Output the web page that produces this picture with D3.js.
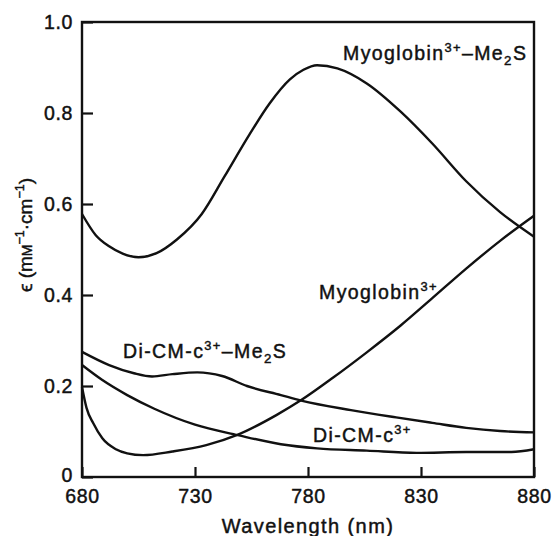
<!DOCTYPE html>
<html><head><meta charset="utf-8">
<script src="https://cdn.jsdelivr.net/npm/d3@7"></script>
<style>
html,body{margin:0;padding:0;background:#fff;}
svg{display:block;}
text{font-family:"Liberation Sans",Arial,Helvetica,sans-serif;fill:#111;stroke:#111;stroke-width:0.45px;}
</style></head>
<body>
<svg id="chart" width="554" height="536"></svg>
<script>
// ---- data ----
const xTicks = [680, 730, 780, 830, 880];
const xTickLabels = ["680", "730", "780", "830", "880"];
const yTicks = [0, 0.2, 0.4, 0.6, 0.8, 1.0];
const yTickLabels = ["0", "0.2", "0.4", "0.6", "0.8", "1.0"];

const myoMe2S_wl = [680, 686, 692, 698, 705, 713, 722, 733, 743, 754, 763, 772, 778, 784, 793, 806, 821, 835, 850, 865, 880];
const myoMe2S_val = [0.578, 0.532, 0.507, 0.491, 0.483, 0.492, 0.522, 0.578, 0.660, 0.752, 0.821, 0.874, 0.895, 0.905, 0.898, 0.865, 0.803, 0.733, 0.650, 0.582, 0.528];

const myo_wl = [680, 682, 685, 689, 695, 700, 707, 720, 735, 749, 766, 777, 791, 806, 821, 835, 850, 865, 880];
const myo_val = [0.198, 0.152, 0.118, 0.085, 0.061, 0.052, 0.048, 0.056, 0.070, 0.093, 0.136, 0.169, 0.218, 0.274, 0.333, 0.393, 0.458, 0.519, 0.574];

const diCMMe2S_wl = [680, 692, 703, 711, 720, 731, 742, 753, 768, 777, 799, 819, 835, 850, 865, 880];
const diCMMe2S_val = [0.275, 0.246, 0.228, 0.221, 0.226, 0.230, 0.222, 0.200, 0.180, 0.168, 0.147, 0.131, 0.119, 0.108, 0.101, 0.098];

const diCM_wl = [680, 689, 700, 712, 730, 749, 768, 784, 806, 828, 850, 870, 880];
const diCM_val = [0.246, 0.213, 0.180, 0.150, 0.115, 0.092, 0.072, 0.063, 0.058, 0.053, 0.055, 0.055, 0.061];

const seriesLabels = [
  {x: 343, y: 60, parts: [["Myoglobin"], ["3+", "sup"], ["–Me"], ["2", "sub"], ["S"]]},
  {x: 319, y: 299, parts: [["Myoglobin"], ["3+", "sup"]]},
  {x: 123, y: 358, parts: [["Di-CM-c"], ["3+", "sup"], ["–Me"], ["2", "sub"], ["S"]]},
  {x: 313, y: 442, parts: [["Di-CM-c"], ["3+", "sup"]]}
];

// ---- layout ----
const svg = d3.select("#chart");
const x = d3.scaleLinear().domain([680, 880]).range([82, 534]);
const y = d3.scaleLinear().domain([0, 1.0]).range([477, 22]);

// frame
svg.append("rect")
  .attr("x", x(680)).attr("y", y(1))
  .attr("width", x(880) - x(680)).attr("height", y(0) - y(1))
  .attr("fill", "none").attr("stroke", "#111").attr("stroke-width", 2.4);

// axes
const yAxis = d3.axisLeft(y).tickValues(yTicks)
  .tickFormat((d, i) => yTickLabels[i]).tickSizeInner(-11).tickSizeOuter(0).tickPadding(9);
const gy = svg.append("g").attr("transform", `translate(${x(680)},0)`).call(yAxis);
const xAxis = d3.axisBottom(x).tickValues(xTicks)
  .tickFormat((d, i) => xTickLabels[i]).tickSizeInner(-10).tickSizeOuter(0).tickPadding(12);
const gx = svg.append("g").attr("transform", `translate(0,${y(0)})`).call(xAxis);

[gx, gy].forEach(g => {
  g.select(".domain").remove();
  g.selectAll(".tick line").attr("stroke", "#111").attr("stroke-width", 2.2);
  g.selectAll(".tick text").attr("font-size", 19.5).attr("fill", "#111")
    .attr("letter-spacing", "0.6px")
    .style("font-family", '"Liberation Sans",Arial,sans-serif');
});
gx.selectAll(".tick text").attr("dy", "0.72em");
gy.selectAll(".tick text").filter(d => d === 0).attr("dy", "0.22em");

// curves
const line = d3.line().x(d => x(d[0])).y(d => y(d[1])).curve(d3.curveMonotoneX);
const series = [
  d3.zip(myoMe2S_wl, myoMe2S_val),
  d3.zip(myo_wl, myo_val),
  d3.zip(diCMMe2S_wl, diCMMe2S_val),
  d3.zip(diCM_wl, diCM_val)
];
svg.append("g").selectAll("path").data(series).join("path")
  .attr("d", line).attr("fill", "none").attr("stroke", "#111")
  .attr("stroke-width", 2.4).attr("stroke-linejoin", "round");

// rich text helper
function richText(g, parts, size) {
  let shift = 0;
  parts.forEach(([t, kind]) => {
    const ts = g.append("tspan").text(t);
    let target = 0, fs = size;
    if (kind === "sup") { target = -0.42 * size; fs = size * 0.66; }
    if (kind === "sub") { target = 0.24 * size; fs = size * 0.68; }
    ts.attr("font-size", fs).attr("dy", target - shift);
    shift = target;
  });
}

seriesLabels.forEach(l => {
  const t = svg.append("text").attr("x", l.x).attr("y", l.y)
    .attr("font-size", 19.5).attr("letter-spacing", "1.4px");
  richText(t, l.parts, 19.5);
});

// axis titles
svg.append("text").attr("x", x(780)).attr("y", 533).attr("text-anchor", "middle")
  .attr("font-size", 20).attr("letter-spacing", "1.4px").text("Wavelength (nm)");

const yt = svg.append("text")
  .attr("transform", "translate(32,235) rotate(-90)")
  .attr("text-anchor", "middle").attr("font-size", 19);
richText(yt, [["ϵ (m"], ["M", "sc"], ["−1", "sup"], ["·cm"], ["−1", "sup"], [")"]], 19);
yt.selectAll("tspan").filter((d, i) => i === 1).attr("font-size", 14);
</script>
</body></html>
